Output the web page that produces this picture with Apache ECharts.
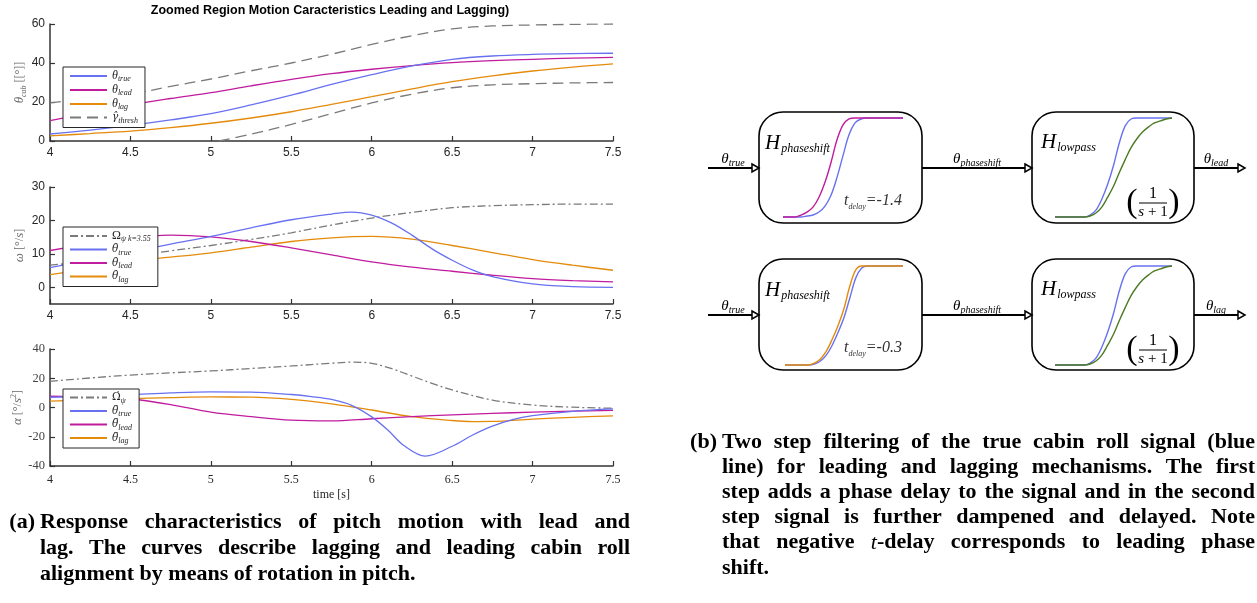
<!DOCTYPE html>
<html><head><meta charset="utf-8">
<script src="https://cdn.jsdelivr.net/npm/echarts@6/dist/echarts.min.js"></script>
<style>html,body{margin:0;padding:0;background:#fff}#c{width:1257px;height:603px}</style>
</head><body><div id="c"></div>
<script>
// ---------- data ----------
const tTheta = [4,4.25,4.5,4.75,5,5.25,5.5,5.75,6,6.25,6.5,6.75,7,7.25,7.5];
const thetaTrue = [3.6,5.6,8,10.8,14,18.5,23.5,29,34,38.5,41.9,43.6,44.4,44.8,45];
const thetaLead = [10.4,14.5,18.5,21.8,24.8,28.3,31.6,34.5,36.8,38.7,40.2,41.2,41.9,42.5,42.9];
const thetaLag = [2.6,3.8,5.1,6.9,9.1,11.8,15,18.8,22.7,26.7,30.4,33.4,35.9,37.9,39.5];
const threshUpper = [19.6,21.8,24,28,31.8,36,40,44.5,49.5,54,57.5,59,59.5,59.8,60];
const tThreshLow = [5.05,5.25,5.5,5.75,6,6.25,6.5,6.75,7,7.25,7.5];
const threshLower = [0,3.5,8.5,14,19.5,24,27.3,28.8,29.4,29.8,30];

const tOmega = [4,4.25,4.5,4.75,5,5.25,5.5,5.75,6,6.25,6.5,6.75,7,7.25,7.5];
const omegaPsi = [6.6,7.8,9.2,10.9,12.5,14.3,16.3,18.6,20.7,22.4,23.8,24.4,24.7,24.9,24.9];
const tRateTrue = [4,4.25,4.5,4.75,5,5.25,5.5,5.75,5.875,6,6.125,6.25,6.375,6.5,6.625,6.75,7,7.25,7.5];
const rateTrue = [5.9,8.2,10.5,12.9,15.2,17.8,20.2,21.9,22.5,21.6,19.2,15.6,11.5,8.1,5.2,3.2,1,0.2,0];
const rateLead = [11,13,14.8,15.6,15.1,13.7,11.8,9.7,7.6,6,4.8,3.6,2.6,2,1.6];
const rateLag = [3.8,5.6,7.8,9,10.3,12,13.7,14.8,15.2,14.4,12.5,10.4,8.3,6.6,5.1];

const tOmegaDot = [4,4.25,4.5,4.75,5,5.25,5.5,5.75,5.875,6,6.125,6.25,6.375,6.5,6.75,7,7.25,7.5];
const omegaDot = [17.9,20.2,22.2,23.7,25,26.7,28.4,30.3,31,30.2,26.5,21.5,16.5,12,5.1,1.7,0.2,-0.5];
const tAccTrue = [4,4.25,4.5,4.75,5,5.25,5.5,5.625,5.75,5.875,6,6.1,6.2,6.333,6.5,6.625,6.75,6.875,7,7.25,7.5];
const accTrue = [7,7.8,8.8,10,10.7,10.5,8.9,7.5,5.5,1.5,-6.4,-15.4,-26,-33.2,-26.5,-19,-12.8,-8.3,-5.6,-2.6,-1];
const tAccLead = [4,4.25,4.5,4.75,5,5.25,5.5,5.75,6,6.25,6.5,6.75,7,7.25,7.5];
const accLead = [7.7,7.2,5.8,2,-3.2,-6.3,-8.7,-9.2,-7.7,-6.3,-5,-4,-3.2,-2.5,-2];
const tAccLag = [4,4.25,4.5,4.75,5,5.25,5.5,5.75,6,6.25,6.5,6.625,6.75,7,7.25,7.5];
const accLag = [4.4,5.2,6,6.7,7.2,7.1,5.6,2.5,-1.7,-6.3,-8.9,-9.6,-9.5,-7.9,-6.7,-5.7];

// mini step responses in the block diagram (normalised time 0..1, value 0..1)
const uStep = [0,0.05,0.1,0.15,0.2,0.25,0.3,0.35,0.4,0.45,0.5,0.55,0.6,0.65,0.7,0.75,0.8,0.85,0.9,0.95,1];
const box1Lead = [0,0,0,0.02,0.05,0.1,0.2,0.35,0.55,0.78,0.93,0.99,1,1,1,1,1,1,1,1,1];
const box1True = [0,0,0,0,0.01,0.02,0.05,0.11,0.22,0.4,0.62,0.83,0.95,0.99,1,1,1,1,1,1,1];
const box2True = [0,0,0,0,0,0,0.02,0.07,0.18,0.33,0.52,0.75,0.92,0.99,1,1,1,1,1,1,1];
const box2Low  = [0,0,0,0,0,0,0.01,0.04,0.1,0.2,0.31,0.45,0.58,0.7,0.79,0.86,0.91,0.95,0.97,0.99,1];
const box3Lag  = [0,0,0,0,0,0.02,0.06,0.14,0.26,0.4,0.57,0.8,0.96,1,1,1,1,1,1,1,1];
const box3True = [0,0,0,0,0,0.01,0.04,0.1,0.2,0.33,0.48,0.68,0.88,0.98,1,1,1,1,1,1,1];
const box4True = [0,0,0,0,0,0,0.02,0.07,0.18,0.33,0.52,0.75,0.92,0.99,1,1,1,1,1,1,1];
const box4Low  = [0,0,0,0,0,0,0.01,0.04,0.1,0.2,0.31,0.45,0.58,0.7,0.79,0.86,0.91,0.95,0.97,0.99,1];

const titleText = 'Zoomed Region Motion Caracteristics Leading and Lagging)';
const captionA = ['Response characteristics of pitch motion with lead and',
  'lag.  The curves describe lagging and leading cabin roll',
  'alignment by means of rotation in pitch.'];
const captionB = ['Two step filtering of the true cabin roll signal (blue',
  'line) for leading and lagging mechanisms.  The first',
  'step adds a phase delay to the signal and in the second',
  'step signal is further dampened and delayed.  Note',
  'that negative t-delay corresponds to leading phase',
  'shift.'];

// ---------- styles ----------
const BLUE = '#6871f0', MAG = '#c01c9e', ORA = '#e48b0c', GRAY = '#7a7a7a', GREEN = '#4b7a22';
const AX = '#333333';
const SERIF = '"Liberation Serif", "DejaVu Serif", serif';
const DSERIF = '"DejaVu Serif", serif';
const SANS = '"Liberation Sans", Arial, sans-serif';

const pts = (t, v) => t.map((x, i) => [x, v[i]]);

const LBL = {
  th_true: '{m|θ}{s|true}', th_lead: '{m|θ}{s|lead}', th_lag: '{m|θ}{s|lag}', gamma: '{d|γ̂}{s|thresh}',
  Om: '{u|Ω}{s|ψ k=3.55}', thd_true: '{d|θ̇}{s|true}', thd_lead: '{d|θ̇}{s|lead}', thd_lag: '{d|θ̇}{s|lag}',
  Omd: '{e|Ω̇}{s|ψ}', thdd_true: '{d|θ̈}{s|true}', thdd_lead: '{d|θ̈}{s|lead}', thdd_lag: '{d|θ̈}{s|lag}'
};
const legRich = {
  m: {fontFamily: SERIF, fontStyle: 'italic', fontSize: 12, lineHeight: 14, color: '#262626', verticalAlign: 'middle'},
  d: {fontFamily: DSERIF, fontStyle: 'italic', fontSize: 10.5, lineHeight: 14, color: '#262626', verticalAlign: 'middle'},
  e: {fontFamily: DSERIF, fontSize: 10.5, lineHeight: 14, color: '#262626', verticalAlign: 'middle'},
  u: {fontFamily: SERIF, fontSize: 12, lineHeight: 14, color: '#262626', verticalAlign: 'middle'},
  s: {fontFamily: SERIF, fontStyle: 'italic', fontSize: 8, lineHeight: 8, color: '#262626', verticalAlign: 'bottom'}
};
function legend(data, top) {
  return {data, left: 63, top, orient: 'vertical', itemWidth: 37, itemHeight: 10, itemGap: 1,
    padding: [3, 7, 3, 6], backgroundColor: '#fff', borderColor: '#262626', borderWidth: 1,
    itemStyle: {opacity: 0, borderWidth: 0},
    selectedMode: false, formatter: n => LBL[n], textStyle: {rich: legRich}};
}
const nameRich = {
  m: {fontFamily: SERIF, fontStyle: 'italic', fontSize: 13, lineHeight: 16, color: '#6a6a6a', verticalAlign: 'middle'},
  t: {fontFamily: SERIF, fontSize: 12, lineHeight: 16, color: '#6a6a6a', verticalAlign: 'middle'},
  s: {fontFamily: SERIF, fontStyle: 'italic', fontSize: 8, lineHeight: 8, color: '#6a6a6a', verticalAlign: 'bottom'},
  p: {fontFamily: SERIF, fontSize: 8, lineHeight: 8, color: '#6a6a6a', verticalAlign: 'top'}
};

function xAxis(gi, serif, name) {
  return {type: 'value', gridIndex: gi, min: 4, max: 7.5, interval: 0.5,
    axisLine: {show: true, onZero: false, lineStyle: {color: AX, width: 1.5}},
    axisTick: {show: true, inside: true, length: 5, lineStyle: {color: AX, width: 1.2}},
    axisLabel: {color: '#262626', fontFamily: serif ? SERIF : SANS, fontSize: 12, margin: serif ? 8 : 6},
    splitLine: {show: false},
    name: name || '', nameLocation: 'middle', nameGap: 23,
    nameTextStyle: {fontFamily: SERIF, fontSize: 12, color: '#262626'}};
}
function yAxis(gi, min, max, ticks, serif, name) {
  return {type: 'value', gridIndex: gi, min, max,
    axisLine: {show: true, onZero: false, lineStyle: {color: AX, width: 1.5}},
    axisTick: {show: true, inside: true, length: 5, customValues: ticks, lineStyle: {color: AX, width: 1.2}},
    axisLabel: {customValues: ticks, color: serif ? '#444' : '#262626', fontFamily: serif ? SERIF : SANS, fontSize: serif ? 12.5 : 12, margin: 5},
    splitLine: {show: false},
    name, nameLocation: 'middle', nameRotate: 90, nameGap: 22,
    nameTextStyle: {rich: nameRich}};
}
function miniAxes(gi) {
  return [{type: 'value', gridIndex: gi, min: 0, max: 1, show: false},
          {type: 'value', gridIndex: gi, min: -0.01, max: 1.01, show: false}];
}
function line(name, xi, data, color, type, w) {
  return {name, type: 'line', xAxisIndex: xi, yAxisIndex: xi, data, symbol: 'none', smooth: 0.35,
    silent: true, clip: true, lineStyle: {color, width: w || 1.3, type: type || 'solid'}, itemStyle: {color}};
}
const DASH = [11, 6], DASHDOT = [8, 3, 2, 3];

// ---------- graphics for the block diagram and captions ----------
const ctx = document.createElement('canvas').getContext('2d');
function meas(t, font) { ctx.font = font; return ctx.measureText(t).width; }
const CAP_FS = 22;
const capFont = `bold ${CAP_FS}px "Liberation Serif"`;
const capItal = `italic ${CAP_FS}px "Liberation Serif"`;
function tEl(text, x, y, font, align) {
  return {type: 'text', x, y, silent: true, z: 10,
    style: {text, font, fill: '#000', textAlign: align || 'left', textVerticalAlign: 'middle', align: align || 'left', verticalAlign: 'middle'}};
}
function caption(label, lines, xl, x0, x1, y0, lh) {
  const els = [tEl(label, xl, y0, capFont, 'right')];
  lines.forEach((ln, i) => {
    const words = ln.split(/\s+/);
    const ws = words.map(w => w === 't-delay' ? meas('t', capItal) + meas('-delay', capFont) : meas(w, capFont));
    const tot = ws.reduce((a, b) => a + b, 0);
    const last = i === lines.length - 1;
    const gap = last ? meas(' ', capFont) : (x1 - x0 - tot) / (words.length - 1);
    let x = x0;
    words.forEach((w, j) => {
      const y = y0 + i * lh;
      if (w === 't-delay') {
        els.push(tEl('t', x, y, capItal));
        els.push(tEl('-delay', x + meas('t', capItal), y, capFont));
      } else els.push(tEl(w, x, y, capFont));
      x += ws[j] + gap;
    });
  });
  return els;
}
const dRich = {
  m: {fontFamily: SERIF, fontStyle: 'italic', fontSize: 15, lineHeight: 18, fill: '#000', verticalAlign: 'middle'},
  H: {fontFamily: SERIF, fontStyle: 'italic', fontSize: 21, lineHeight: 24, fill: '#000', verticalAlign: 'middle'},
  t: {fontFamily: SERIF, fontStyle: 'italic', fontSize: 16, lineHeight: 20, fill: '#333', verticalAlign: 'middle'},
  s: {fontFamily: SERIF, fontStyle: 'italic', fontSize: 10, lineHeight: 10, fill: '#000', verticalAlign: 'bottom'},
  hs: {fontFamily: SERIF, fontStyle: 'italic', fontSize: 12, lineHeight: 12, fill: '#000', verticalAlign: 'bottom', padding: [0, 0, 0, 1]},
  ds: {fontFamily: SERIF, fontStyle: 'italic', fontSize: 8, lineHeight: 8, fill: '#333', verticalAlign: 'bottom'}
};
function rEl(text, x, y, align, va) {
  return {type: 'text', x, y, silent: true, z: 10,
    style: {text, rich: dRich, fill: '#000', textAlign: align || 'left', align: align || 'left',
      textVerticalAlign: va || 'middle', verticalAlign: va || 'middle'}};
}
function box(x, y, w, h) {
  return {type: 'rect', z: 1, silent: true, shape: {x, y, width: w, height: h, r: 24},
    style: {fill: 'none', stroke: '#000', lineWidth: 1.6}};
}
function arrow(x0, x1, y) {
  return [{type: 'line', z: 1, silent: true, shape: {x1: x0, y1: y, x2: x1 - 6, y2: y}, style: {stroke: '#000', lineWidth: 2}},
    {type: 'polygon', z: 2, silent: true, shape: {points: [[x1 - 7, y - 4], [x1, y], [x1 - 7, y + 4]]},
      style: {fill: '#fff', stroke: '#000', lineWidth: 1.5}}];
}
function fraction(cx, cy) {
  return [
    tEl('1', cx, cy - 9, `16px ${SERIF}`, 'center'),
    {type: 'line', z: 10, silent: true, shape: {x1: cx - 14, y1: cy, x2: cx + 14, y2: cy}, style: {stroke: '#000', lineWidth: 1}},
    {type: 'text', x: cx, y: cy + 9, silent: true, z: 10, style: {text: '{i|s} + 1', rich: {i: {fontFamily: SERIF, fontStyle: 'italic', fontSize: 15, fill: '#000'}},
      font: `15px ${SERIF}`, fill: '#000', textAlign: 'center', align: 'center', textVerticalAlign: 'middle', verticalAlign: 'middle'}},
    tEl('(', cx - 21, cy, `300 34px ${SERIF}`, 'center'),
    tEl(')', cx + 21, cy, `300 34px ${SERIF}`, 'center')
  ];
}
function row(y, dy, outLabel, delay) {
  return [
    ...arrow(708, 759, y), ...arrow(922, 1032, y), ...arrow(1194, 1245, y),
    box(759, 112 + dy, 163, 111), box(1032, 112 + dy, 162, 111),
    rEl('{m|θ}{s|true}', 733, y - 9, 'center'),
    rEl('{m|θ}{s|phaseshift}', 977, y - 9, 'center'),
    rEl(`{m|θ}{s|${outLabel}}`, 1216, y - 9, 'center'),
    rEl('{H|H}{hs|phaseshift}', 765, 143 + dy),
    rEl('{H|H}{hs|lowpass}', 1041, 142 + dy),
    rEl(`{t|t}{ds|delay}{t|=-${delay}}`, 844, 201 + dy),
    ...fraction(1153, 203 + dy)
  ];
}

const graphics = [
  tEl(titleText, 330, 11, `bold 12.5px ${SANS}`, 'center'),
  ...row(168, 0, 'lead', '1.4'),
  ...row(315, 147, 'lag', '0.3'),
  ...caption('(a)', captionA, 35, 40, 630, 522, 26),
  ...caption('(b)', captionB, 717, 722, 1255, 442, 25.2)
];

// ---------- option ----------
const option = {
  animation: false,
  backgroundColor: '#fff',
  grid: [
    {left: 50, top: 24, width: 563, height: 117},
    {left: 50, top: 187, width: 563, height: 117},
    {left: 50, top: 349, width: 563, height: 117},
    {left: 783, top: 117, width: 120, height: 101},
    {left: 1055, top: 117, width: 117, height: 101},
    {left: 785, top: 265, width: 118, height: 101},
    {left: 1055, top: 265, width: 117, height: 101}
  ],
  xAxis: [xAxis(0, false), xAxis(1, false), xAxis(2, true, 'time [s]'),
    miniAxes(3)[0], miniAxes(4)[0], miniAxes(5)[0], miniAxes(6)[0]],
  yAxis: [
    yAxis(0, 0, 60, [0, 20, 40, 60], false, '{m|θ}{s|cab}{t| [[°]]}'),
    yAxis(1, -5, 30, [0, 10, 20, 30], false, '{m|ω}{t| [°/}{m|s}{t|]}'),
    yAxis(2, -40, 40, [-40, -20, 0, 20, 40], true, '{m|α}{t| [°/}{m|s}{p|2}{t|]}'),
    miniAxes(3)[1], miniAxes(4)[1], miniAxes(5)[1], miniAxes(6)[1]
  ],
  legend: [
    legend(['th_true', 'th_lead', 'th_lag', 'gamma'], 67),
    legend(['Om', 'thd_true', 'thd_lead', 'thd_lag'], 227),
    legend(['Omd', 'thdd_true', 'thdd_lead', 'thdd_lag'], 389)
  ],
  series: [
    line('gamma', 0, pts(tTheta, threshUpper), GRAY, DASH, 1.3),
    line('gamma', 0, pts(tThreshLow, threshLower), GRAY, DASH, 1.3),
    line('th_lag', 0, pts(tTheta, thetaLag), ORA),
    line('th_lead', 0, pts(tTheta, thetaLead), MAG),
    line('th_true', 0, pts(tTheta, thetaTrue), BLUE),

    line('Om', 1, pts(tOmega, omegaPsi), GRAY, DASHDOT, 1.3),
    line('thd_lag', 1, pts(tOmega, rateLag), ORA),
    line('thd_lead', 1, pts(tOmega, rateLead), MAG),
    line('thd_true', 1, pts(tRateTrue, rateTrue), BLUE),

    line('Omd', 2, pts(tOmegaDot, omegaDot), GRAY, DASHDOT, 1.3),
    line('thdd_lag', 2, pts(tAccLag, accLag), ORA),
    line('thdd_lead', 2, pts(tAccLead, accLead), MAG),
    line('thdd_true', 2, pts(tAccTrue, accTrue), BLUE),

    line('b1true', 3, pts(uStep, box1True), BLUE, 'solid', 1.4),
    line('b1lead', 3, pts(uStep, box1Lead), MAG, 'solid', 1.4),
    line('b2true', 4, pts(uStep, box2True), BLUE, 'solid', 1.4),
    line('b2low', 4, pts(uStep, box2Low), GREEN, 'solid', 1.4),
    line('b3true', 5, pts(uStep, box3True), BLUE, 'solid', 1.4),
    line('b3lag', 5, pts(uStep, box3Lag), ORA, 'solid', 1.4),
    line('b4true', 6, pts(uStep, box4True), BLUE, 'solid', 1.4),
    line('b4low', 6, pts(uStep, box4Low), GREEN, 'solid', 1.4)
  ],
  graphic: {elements: graphics}
};
const chart = echarts.init(document.getElementById('c'), null, {renderer: 'canvas'});
chart.setOption(option);
</script>
</body></html>
